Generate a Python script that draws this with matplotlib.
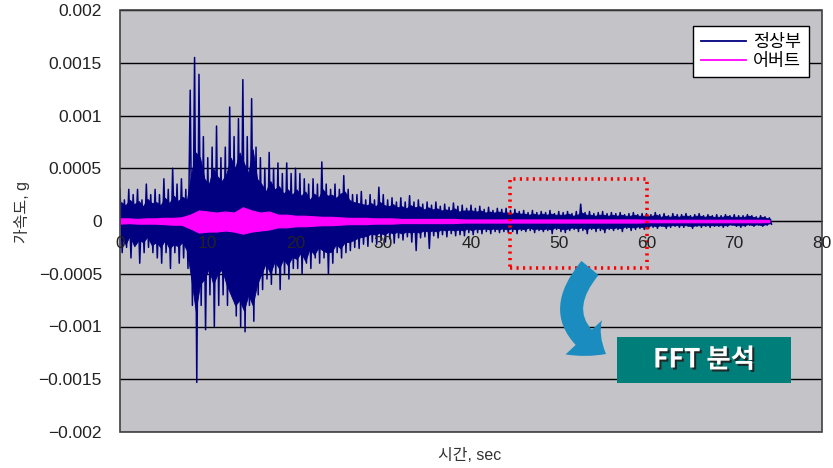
import numpy as np
import matplotlib
matplotlib.use("Agg")
import matplotlib.pyplot as plt
from matplotlib.patches import Rectangle, FancyArrowPatch, ArrowStyle
from matplotlib.lines import Line2D
import matplotlib.patheffects as pe

plt.rcParams['font.family'] = ['Liberation Sans', 'Noto Sans CJK KR']
plt.rcParams['axes.unicode_minus'] = True

# 정상부 peak values (unit 1e-4 g), every 0.5 s from 0 to 74 s
normal_pos = [
    3, 2, 3, 2.5, 3, 2, 3.5, 2.5,
    3, 2.5, 4, 3, 5, 3.5, 4, 3,
    12.4, 15.5, 13.9, 8, 6, 7, 9, 6,
    7, 10.8, 8, 9.7, 13.4, 8, 11.6, 7,
    6, 5, 6.5, 5, 5.5, 4.5, 5.5, 4.5,
    5, 4.5, 4, 3.5, 4, 3.5, 5.6, 3.5,
    3, 3.5, 3, 4.3, 3, 2.5, 2.5, 2.8,
    2, 2.5, 2, 3.2, 2.5, 2, 2.2, 1.8,
    2.2, 1.8, 2.4, 1.8, 2, 1.6, 1.8, 1.5,
    1.8, 1.4, 1.6, 1.3, 1.7, 1.4, 1.5, 1.2,
    1.5, 1.2, 1.4, 1.1, 1.3, 1.0, 1.2, 1.1,
    1.2, 1.0, 1.1, 0.9, 1.0, 0.8, 1.0, 0.8,
    0.9, 0.8, 1.0, 0.7, 0.9, 0.8, 0.9, 0.7,
    0.9, 1.6, 0.8, 0.9, 0.7, 0.8, 0.9, 0.7,
    0.8, 0.7, 0.8, 0.6, 0.7, 0.8, 0.6, 0.7,
    0.7, 0.6, 0.8, 0.6, 0.7, 0.5, 0.7, 0.6,
    0.6, 0.7, 0.5, 0.6, 0.7, 0.5, 0.6, 0.5,
    0.6, 0.5, 0.6, 0.5, 0.6, 0.5, 0.5, 0.6,
    0.5, 0.4, 0.5, 0.4, 0.3,
]
normal_neg = [
    3, 2.5, 3.5, 2, 4, 3, 2.5, 3,
    3.5, 4, 3, 4.5, 3, 4, 3.5, 4.5,
    8, 15.3, 8, 10.3, 7, 10, 8, 7,
    8, 7, 9, 10, 10.5, 8, 9.5, 7,
    6.5, 5.5, 6, 5, 6.5, 5, 5.5, 4.5,
    4.5, 5, 4, 4.5, 3.5, 4, 3.5, 5,
    4, 3, 3.5, 3, 2.8, 2.5, 2.6, 2.2,
    2.4, 2, 2.2, 1.8, 2, 1.7, 2.1, 1.6,
    1.8, 1.5, 2.0, 2.8, 1.6, 1.5, 2.6, 1.4,
    1.6, 1.3, 1.5, 1.2, 1.4, 1.3, 1.4, 1.1,
    1.3, 1.1, 1.2, 1.0, 1.2, 1.0, 1.1, 1.0,
    1.1, 1.0, 1.2, 0.9, 1.0, 0.9, 1.1, 0.9,
    1.0, 0.9, 1.2, 0.8, 1.0, 1.1, 0.9, 0.8,
    1.0, 0.9, 1.2, 0.8, 1.0, 0.9, 1.1, 0.8,
    0.9, 0.8, 1.0, 0.7, 0.9, 0.8, 0.7, 0.8,
    0.7, 0.6, 0.7, 0.5, 0.7, 0.6, 0.5, 0.6,
    0.6, 0.5, 0.7, 0.5, 0.6, 0.5, 0.6, 0.5,
    0.5, 0.6, 0.5, 0.4, 0.5, 0.6, 0.5, 0.4,
    0.5, 0.4, 0.5, 0.4, 0.3,
]

# 정상부 dense core band (unit 1e-4 g), every 0.5 s from 0 to 74 s
core_pos = [
    1.8, 1.5, 2.0, 1.6, 1.9, 1.4, 2.1, 1.7,
    1.8, 1.5, 2.2, 1.7, 2.4, 1.9, 2.3, 2.0,
    4.5, 6.5, 6.0, 4.0, 3.5, 5.0, 4.2, 3.8,
    4.5, 6.0, 5.0, 6.5, 5.5, 4.5, 6.8, 4.0,
    3.5, 2.8, 3.8, 3.0, 3.3, 2.6, 3.0, 2.5,
    3.0, 2.4, 2.8, 2.0, 2.6, 2.2, 3.0, 2.4,
    2.5, 2.2, 2.6, 2.8, 2.0, 1.8, 1.7, 1.6,
    1.5, 1.7, 1.4, 1.8, 1.5, 1.4, 1.6, 1.3,
    1.4, 1.2, 1.5, 1.3, 1.4, 1.1, 1.3, 1.1,
    1.2, 1.0, 1.1, 1.0, 1.2, 0.9, 1.0, 1.0,
    1.0, 0.9, 1.0, 0.8, 0.9, 0.8, 0.9, 0.8,
    0.8, 0.7, 0.8, 0.7, 0.7, 0.6, 0.7, 0.6,
    0.7, 0.6, 0.7, 0.6, 0.6, 0.6, 0.7, 0.5,
    0.6, 0.8, 0.6, 0.6, 0.5, 0.6, 0.6, 0.5,
    0.6, 0.5, 0.6, 0.5, 0.5, 0.6, 0.5, 0.5,
    0.5, 0.5, 0.6, 0.4, 0.5, 0.4, 0.5, 0.4,
    0.5, 0.5, 0.4, 0.5, 0.5, 0.4, 0.5, 0.4,
    0.4, 0.4, 0.5, 0.4, 0.4, 0.4, 0.4, 0.5,
    0.4, 0.3, 0.4, 0.3, 0.2,
]
core_neg = [
    1.6, 2.2, 1.4, 2.4, 1.8, 2.0, 1.5, 2.3,
    2.0, 2.5, 1.8, 2.6, 2.2, 2.4, 2.0, 2.8,
    5.5, 8.5, 6.0, 5.5, 4.5, 6.0, 5.0, 4.6,
    6.0, 7.0, 8.0, 7.5, 8.5, 7.0, 8.0, 6.0,
    5.0, 4.0, 5.0, 3.8, 4.5, 3.6, 4.2, 3.4,
    3.6, 3.0, 3.8, 2.6, 3.2, 2.5, 2.8, 3.0,
    2.9, 2.2, 2.6, 2.0, 2.0, 1.8, 1.6, 1.5,
    1.4, 1.2, 1.3, 1.1, 1.3, 1.0, 1.2, 1.0,
    1.2, 1.0, 1.1, 1.0, 1.1, 0.9, 1.0, 0.9,
    1.0, 0.8, 0.9, 0.8, 0.9, 0.8, 0.9, 0.7,
    0.9, 0.7, 0.8, 0.7, 0.8, 0.7, 0.8, 0.7,
    0.8, 0.7, 0.8, 0.7, 0.8, 0.6, 0.8, 0.7,
    0.8, 0.7, 0.8, 0.6, 0.7, 0.8, 0.7, 0.6,
    0.7, 0.6, 0.8, 0.6, 0.7, 0.6, 0.8, 0.6,
    0.7, 0.6, 0.7, 0.5, 0.6, 0.6, 0.5, 0.6,
    0.5, 0.4, 0.5, 0.4, 0.5, 0.4, 0.4, 0.4,
    0.4, 0.4, 0.5, 0.4, 0.4, 0.4, 0.4, 0.4,
    0.4, 0.4, 0.4, 0.3, 0.4, 0.4, 0.4, 0.3,
    0.4, 0.3, 0.4, 0.3, 0.2,
]

# 어버트 envelope (unit 1e-4 g), every 1 s from 0 to 74 s
abut_pos = [
    0.25, 0.25, 0.2, 0.25, 0.25, 0.3, 0.3, 0.35, 0.6, 1.0,
    0.9, 0.8, 0.9, 0.8, 1.3, 1.0, 0.8, 0.9, 0.6, 0.6,
    0.5, 0.5, 0.45, 0.4, 0.4, 0.35, 0.3, 0.3, 0.3, 0.25,
    0.25, 0.25, 0.2, 0.2, 0.2, 0.2, 0.2, 0.2, 0.2, 0.15,
    0.15, 0.15, 0.15, 0.15, 0.15, 0.15, 0.15, 0.15, 0.15, 0.15,
    0.15, 0.15, 0.15, 0.15, 0.15, 0.15, 0.15, 0.15, 0.15, 0.15,
    0.12, 0.12, 0.12, 0.12, 0.12, 0.12, 0.12, 0.12, 0.12, 0.12,
    0.12, 0.12, 0.12, 0.12, 0.1,
]
abut_neg = [
    0.25, 0.2, 0.25, 0.25, 0.25, 0.3, 0.35, 0.35, 0.7, 1.1,
    1.0, 1.0, 0.9, 1.0, 1.2, 1.0, 0.9, 0.8, 0.6, 0.6,
    0.5, 0.5, 0.45, 0.4, 0.4, 0.35, 0.3, 0.3, 0.3, 0.25,
    0.25, 0.25, 0.2, 0.2, 0.2, 0.2, 0.2, 0.2, 0.2, 0.15,
    0.15, 0.15, 0.15, 0.15, 0.15, 0.15, 0.15, 0.15, 0.15, 0.15,
    0.15, 0.15, 0.15, 0.15, 0.15, 0.15, 0.15, 0.15, 0.15, 0.15,
    0.12, 0.12, 0.12, 0.12, 0.12, 0.12, 0.12, 0.12, 0.12, 0.12,
    0.12, 0.12, 0.12, 0.12, 0.1,
]

# FFT window
fft_t0, fft_t1 = 44.4, 60.1
fft_lo, fft_hi = -0.000445, 0.0004

W, H = 833, 468
fig = plt.figure(figsize=(W / 100, H / 100), dpi=100)
ax = fig.add_axes([120 / W, 1 - 432 / H, 702 / W, 422 / H])
ax.set_facecolor('#C4C3C8')

navy = '#000080'

# interleave positive and negative peaks into one trace
n = len(normal_pos)
t = np.empty(2 * n)
y = np.empty(2 * n)
t[0::2] = np.arange(n) * 0.5
t[1::2] = np.arange(n) * 0.5 + 0.25
y[0::2] = np.array(normal_pos) * 1e-4
y[1::2] = -np.array(normal_neg) * 1e-4
ax.plot(t, y, color=navy, lw=1.1, zorder=3)

tc = np.arange(len(core_pos)) * 0.5 + 0.125
ax.fill_between(tc, np.array(core_pos) * 1e-4, -np.array(core_neg) * 1e-4,
                color=navy, lw=0.6, edgecolor=navy, zorder=3)

ta = np.arange(len(abut_pos)) * 1.0
ax.fill_between(ta, np.array(abut_pos) * 1e-4, -np.array(abut_neg) * 1e-4,
                color='#FF00FF', lw=0.8, edgecolor='#FF00FF', zorder=4)

ax.add_patch(Rectangle((fft_t0, fft_lo), fft_t1 - fft_t0, fft_hi - fft_lo,
                       fill=False, edgecolor='#FF0000', lw=2.6,
                       linestyle=(0, (0.6, 1.2)), zorder=6))

ax.set_xlim(0, 80)
ax.set_ylim(-0.002, 0.002)
yt = np.arange(-0.002, 0.00201, 0.0005)
ax.set_yticks(yt)
ylabels = ['-0.002', '-0.0015', '-0.001', '-0.0005', '0',
           '0.0005', '0.001', '0.0015', '0.002']
ax.set_yticklabels([s.replace('-', '\u2212') for s in ylabels])
ax.set_xticks(np.arange(0, 81, 10))

# horizontal gridlines behind the traces
for v in yt:
    ax.axhline(v, color='black', lw=1.0, zorder=1)

for s in ['top', 'right', 'left']:
    ax.spines[s].set_visible(False)
ax.spines['bottom'].set_position(('data', 0))
ax.spines['bottom'].set_color('black')
ax.spines['bottom'].set_zorder(1)
ax.xaxis.set_zorder(8)
ax.add_patch(Rectangle((0, 0), 1, 1, transform=ax.transAxes, fill=False,
                       edgecolor='#404040', lw=1.2, zorder=7, clip_on=False))

ax.tick_params(axis='y', length=0, pad=13, labelsize=12.5, colors='#222222')
ax.tick_params(axis='x', length=0, pad=11, labelsize=12.5, colors='#222222')

fig.text(22 / W, 1 - 212 / H, '가속도, g', rotation=90, ha='center', va='center',
         fontsize=11.5, color='#333333')
fig.text(470 / W, 1 - 456 / H, '시간, sec', ha='center', va='center',
         fontsize=11.5, color='#333333')

handles = [Line2D([], [], color=navy, lw=1.3),
           Line2D([], [], color='#FF00FF', lw=1.3)]
leg = fig.legend(handles, ['정상부', '어버트'], loc='upper right',
                 bbox_to_anchor=(809 / W, 1 - 26 / H), fontsize=12.5,
                 frameon=True, fancybox=False, framealpha=1,
                 handlelength=2.6, handletextpad=0.4, borderpad=0.45,
                 labelspacing=0.2, borderaxespad=0)
leg.get_frame().set_edgecolor('black')
leg.get_frame().set_linewidth(1.0)

# curved arrow toward the FFT box
arrow = FancyArrowPatch((590 / W, 1 - 268 / H), (606 / W, 1 - 354 / H),
                        transform=fig.transFigure,
                        connectionstyle='arc3,rad=0.6',
                        arrowstyle=ArrowStyle('simple', head_length=1.0,
                                              head_width=1.8, tail_width=0.8),
                        mutation_scale=20, color='#1A8CC0', lw=0,
                        shrinkA=0, shrinkB=0, zorder=8)
fig.add_artist(arrow)

fig.add_artist(Rectangle((617 / W, 1 - 383 / H), 174 / W, 46 / H,
                         transform=fig.transFigure, facecolor='#007F7A',
                         edgecolor='none', zorder=8))
fig.text(704 / W, 1 - 360 / H, 'FFT 분석', ha='center', va='center',
         fontsize=19, fontweight='bold', color='white', zorder=9,
         family=['Noto Sans CJK KR'],
         path_effects=[pe.SimplePatchShadow(offset=(1.5, -1.5),
                                            shadow_rgbFace='#202020', alpha=0.9),
                       pe.Normal()])

fig.savefig('out.png', dpi=100)
